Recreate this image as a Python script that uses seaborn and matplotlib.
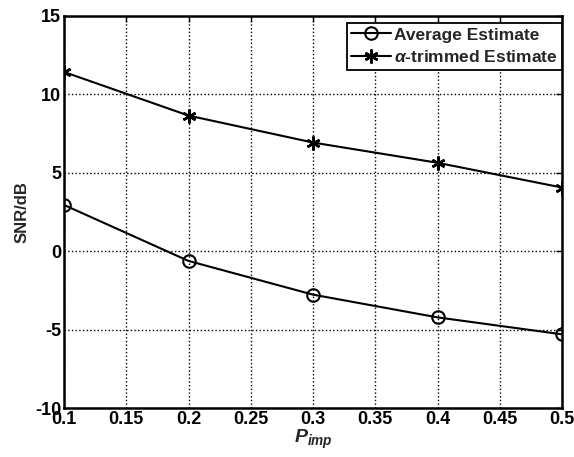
import matplotlib
matplotlib.use('Agg')
from matplotlib import pyplot as plt
import pandas as pd
import seaborn as sns

p_imp = [0.1, 0.2, 0.3, 0.4, 0.5]
snr_average = [2.95, -0.62, -2.77, -4.22, -5.3]
snr_trimmed = [11.43, 8.65, 6.93, 5.64, 4.06]
labels = ['Average Estimate', r'$\alpha$-trimmed Estimate']
xticks = [0.1, 0.15, 0.2, 0.25, 0.3, 0.35, 0.4, 0.45, 0.5]
xticklabels = ['0.1', '0.15', '0.2', '0.25', '0.3', '0.35', '0.4', '0.45', '0.5']
yticks = [-10, -5, 0, 5, 10, 15]

df = pd.DataFrame({'p': p_imp, 'avg': snr_average, 'trim': snr_trimmed})

sns.set_style('white')
plt.rcParams['font.family'] = ['Liberation Sans', 'DejaVu Sans']
plt.rcParams['font.weight'] = 'bold'
plt.rcParams['axes.unicode_minus'] = False
plt.rcParams['mathtext.fontset'] = 'custom'
plt.rcParams['mathtext.it'] = 'Liberation Sans:italic:bold'
plt.rcParams['mathtext.rm'] = 'Liberation Sans:bold'

fig = plt.figure(figsize=(5.74, 4.57), dpi=100)
ax = fig.add_axes([0.1115, 0.1072, 0.8676, 0.8578])

sns.lineplot(data=df, x='p', y='avg', color='black', linewidth=1.5,
             marker='o', markersize=9, markerfacecolor='none',
             markeredgecolor='black', markeredgewidth=1.5,
             label=labels[0], ax=ax)
# asterisk marker like matlab's '*'
sns.lineplot(data=df, x='p', y='trim', color='black', linewidth=1.5,
             marker=(6, 2, 0), markersize=10,
             markeredgecolor='black', markeredgewidth=1.8,
             label=labels[1], ax=ax)

ax.set_xlim(0.1, 0.5)
ax.set_ylim(-10, 15)
ax.set_xticks(xticks)
ax.set_xticklabels(xticklabels)
ax.set_yticks(yticks)
ax.grid(True, color='black', linestyle=':', linewidth=1.0)
for s in ax.spines.values():
    s.set_color('black')
    s.set_linewidth(1.8)
ax.tick_params(direction='in', length=4, width=1, top=True, right=True,
               labelsize=13, colors='black', pad=2)
ax.set_xlabel(r'$P_{imp}$', fontsize=14, labelpad=0)
ax.set_ylabel('SNR/dB', fontsize=12, fontweight='bold', labelpad=4)

leg = ax.legend(loc='upper right', fontsize=12.5, frameon=True, fancybox=False,
                edgecolor='black', framealpha=1, borderaxespad=0.0,
                bbox_to_anchor=(1.0, 0.982),
                handlelength=2.3, handletextpad=0.15, borderpad=0.25,
                labelspacing=0.4)
leg.get_frame().set_linewidth(1.3)

fig.savefig('out.png', dpi=100)
